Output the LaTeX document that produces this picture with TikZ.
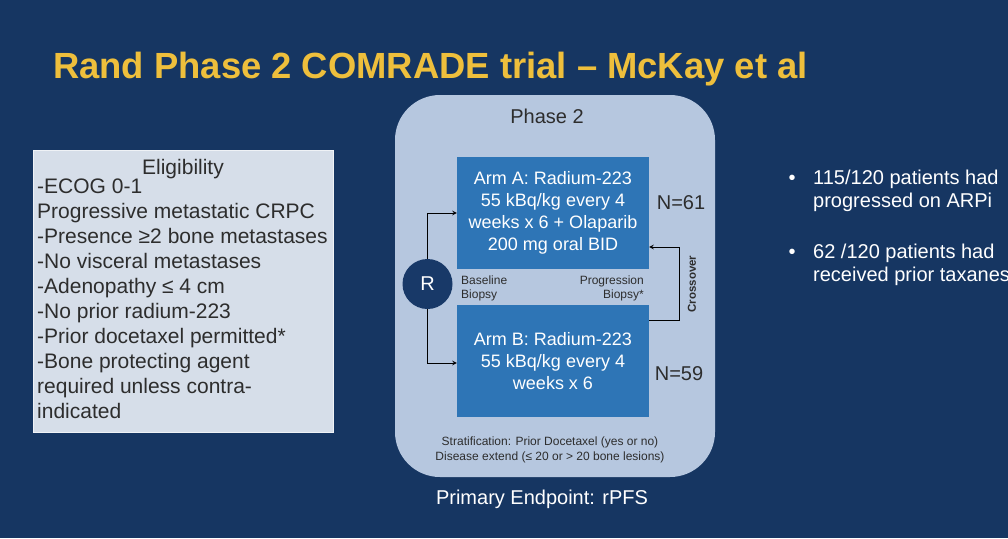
\documentclass[tikz,border=0pt]{standalone}
\usepackage{fontspec}
\setmainfont{Liberation Sans}
\usetikzlibrary{positioning}

\definecolor{slidebg}{RGB}{22,54,98}
\definecolor{titleyellow}{RGB}{238,191,60}
\definecolor{eligfill}{RGB}{214,222,233}
\definecolor{phasefill}{RGB}{182,199,223}
\definecolor{armblue}{RGB}{46,117,182}
\definecolor{randnavy}{RGB}{24,57,104}
\definecolor{darktxt}{RGB}{45,45,45}

\begin{document}
\begin{tikzpicture}[x=1pt,y=-1pt,>=stealth,
  armbox/.style={fill=armblue,text=white,minimum width=192pt,minimum height=112pt,
    align=center,inner sep=0pt,font=\fontsize{18}{22}\selectfont},
  smalltxt/.style={text=darktxt,inner sep=0pt,font=\fontsize{12}{14}\selectfont},
  bodytxt/.style={inner sep=0pt,font=\fontsize{20}{23}\selectfont},
  link/.style={->,line width=1pt,black}]
\useasboundingbox (0,0) rectangle (1008,538);
\fill[slidebg] (0,0) rectangle (1008,538);

\node[anchor=base west,inner sep=0pt,text=titleyellow,
  font=\bfseries\fontsize{36.4}{40}\selectfont] (title) at (53,78)
  {Rand Phase 2 COMRADE trial – McKay et al};

% eligibility
\node[fill=eligfill,draw=white!60!eligfill,line width=1pt,anchor=north west,
  minimum width=300pt,minimum height=282pt] (elig) at (33,150) {};
\node[bodytxt,text=darktxt,anchor=base,font=\fontsize{21}{25}\selectfont]
  (eligtitle) at (183,174) {Eligibility};
% multi-line node: base is the last line
\node[bodytxt,text=darktxt,anchor=base west,align=left,
  font=\fontsize{21}{25}\selectfont] (eliglist) at (37,418)
  {-ECOG 0-1\\
   Progressive metastatic CRPC\\
   -Presence ≥2 bone metastases\\
   -No visceral metastases\\
   -Adenopathy ≤ 4 cm\\
   -No prior radium-223\\
   -Prior docetaxel permitted*\\
   -Bone protecting agent\\
   required unless contra-\\
   indicated};

% phase 2 schema
\node[fill=phasefill,rounded corners=45pt,minimum width=320pt,
  minimum height=382pt] (phase) at (555,286) {};
\node[bodytxt,text=darktxt,anchor=base] (phasetitle) at (547,123) {Phase 2};

\node[armbox] (armA) at (553,213) {Arm A: Radium-223\\55 kBq/kg every 4\\weeks x 6 + Olaparib\\200 mg oral BID};
\node[armbox] (armB) at (553,361) {Arm B: Radium-223\\55 kBq/kg every 4\\weeks x 6};
\node[bodytxt,text=darktxt,anchor=base] (nA) at (681,209) {N=61};
\node[bodytxt,text=darktxt,anchor=base] (nB) at (679,380) {N=59};

\node[circle,fill=randnavy,minimum size=50pt,inner sep=0pt,text=white,
  font=\fontsize{20}{22}\selectfont] (rand) at (427.5,284) {R};
\coordinate (upA) at (rand.north |- armA.west);
\coordinate (upB) at (rand.south |- 0,363);
\draw[link] (rand.north) -- (upA) -- (armA.west);
\draw[link] (rand.south) -- (upB) -- (armB.west |- upB);

\coordinate (crossB) at (679,320);
\coordinate (crossA) at (679,247);
\draw[link] (armB.east |- crossB) -- (crossB) -- (crossA) -- (armA.east |- crossA);
\node[smalltxt,rotate=90,font=\bfseries\fontsize{11.5}{14}\selectfont] (cross) at (692,284) {Crossover};

\node[smalltxt,anchor=base west,align=left] (basebx) at (461,298) {Baseline\\Biopsy};
\node[smalltxt,anchor=base east,align=right] (progbx) at (644,298) {Progression\\Biopsy*};

\node[smalltxt,anchor=base,align=center,font=\fontsize{12}{15}\selectfont] (strat) at (550,460)
  {Stratification: Prior Docetaxel (yes or no)\\Disease extend (≤ 20 or > 20 bone lesions)};

\node[bodytxt,text=white,anchor=base] (endpt) at (542,504) {Primary Endpoint: rPFS};

% right-hand bullets
\node[bodytxt,text=white,anchor=base] (dot1) at (792,184) {•};
\node[bodytxt,text=white,anchor=base west,align=left] (note1) at (813,207) {115/120 patients had\\progressed on ARPi};
\node[bodytxt,text=white,anchor=base] (dot2) at (792,258) {•};
\node[bodytxt,text=white,anchor=base west,align=left] (note2) at (813,281) {62 /120 patients had\\received prior taxanes};
\end{tikzpicture}
\end{document}
